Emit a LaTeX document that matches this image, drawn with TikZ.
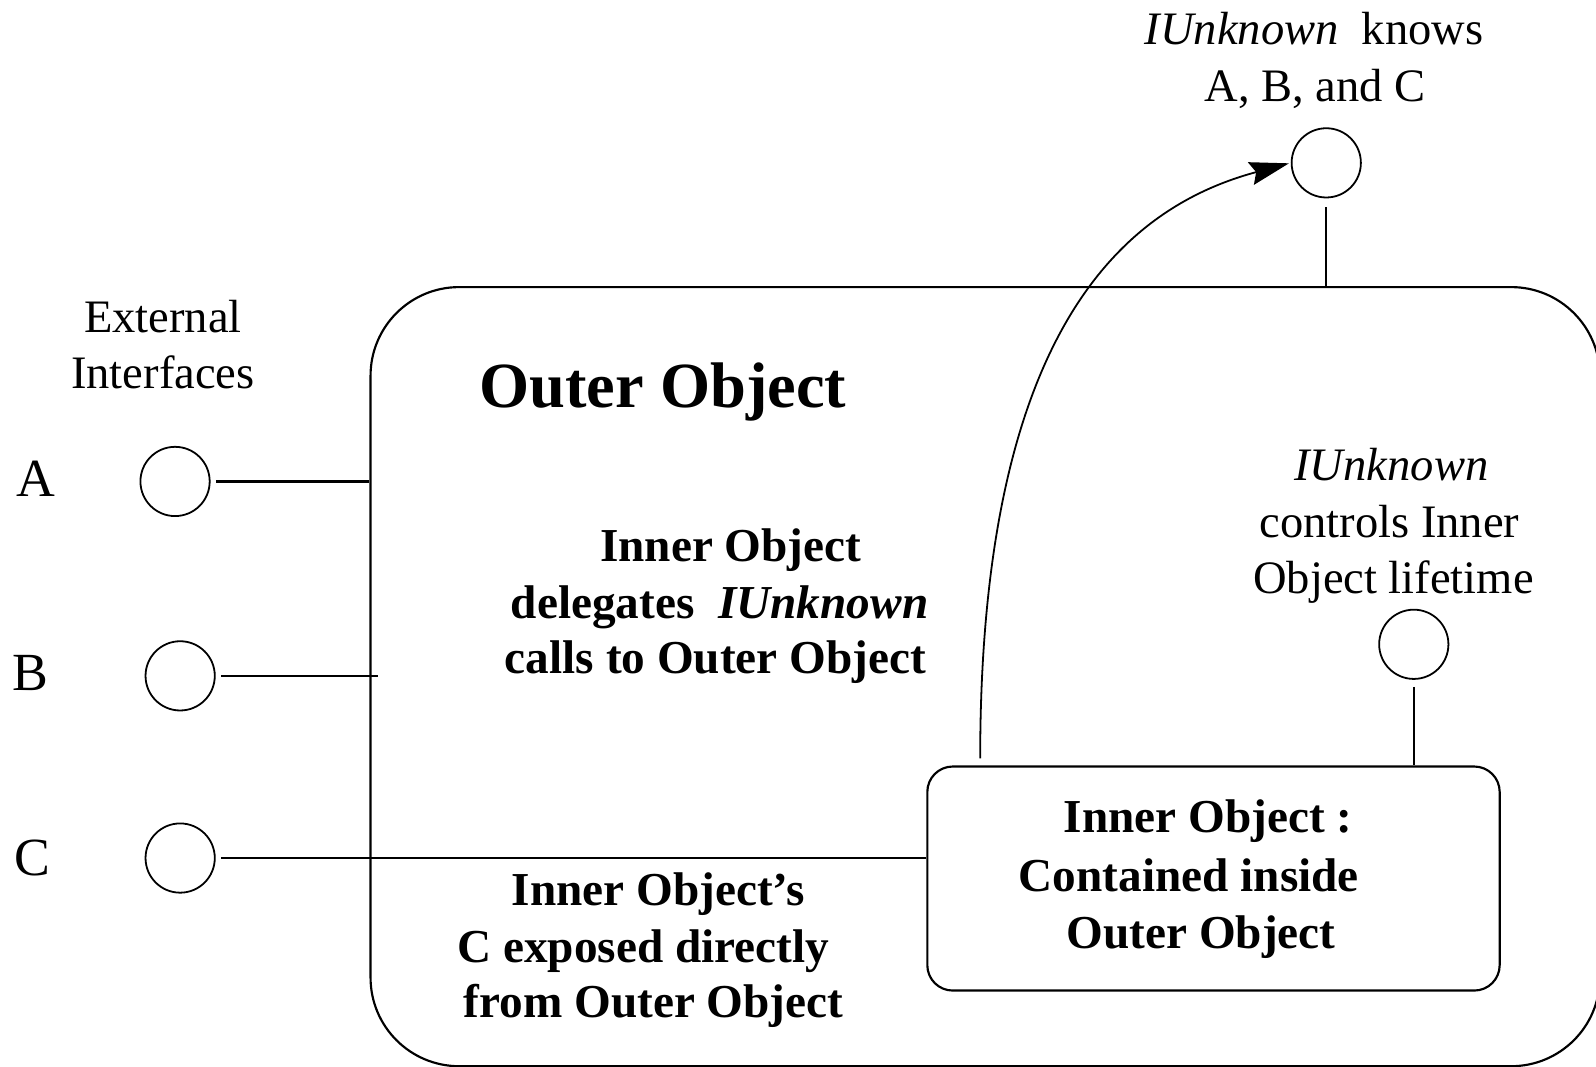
\documentclass[tikz,border=0pt]{standalone}
\usepackage{fontspec}
\setmainfont{Liberation Serif}
\usetikzlibrary{arrows.meta}
\begin{document}
\begin{tikzpicture}[x=0.01cm,y=-0.01cm,
  line width=0.6pt,
  iface/.style={circle, draw, line width=0.5pt, minimum size=0.68cm, inner sep=0pt},
  txt/.style={inner sep=0pt, anchor=base, font=\fontsize{13}{15.8}\selectfont},
  btxt/.style={inner sep=0pt, anchor=base, font=\bfseries\fontsize{13.2}{15.8}\selectfont},
  letter/.style={inner sep=0pt, anchor=base, font=\fontsize{15}{18}\selectfont},
  wire/.style={line width=0.6pt},
  box/.style={draw, line width=0.6pt, inner sep=0pt, anchor=north west}]
\useasboundingbox (0,0) rectangle (1568,1048);

% outer object container
\node[box, rounded corners=0.87cm, minimum width=12.07cm, minimum height=7.65cm]
  (outer) at (363,281) {};
% inner object
\node[box, rounded corners=0.25cm, minimum width=5.62cm, minimum height=2.2cm]
  (inner) at (910,752) {};

% interface lollipops
\node[iface] (ia) at (172,473) {};
\node[iface] (ib) at (177,664) {};
\node[iface] (ic) at (177,843) {};
\node[iface] (top) at (1303,160) {};
\node[iface] (life) at (1389,633) {};

\draw[wire, shorten <=1.5pt] (ia.east) -- (ia.east -| outer.west);
\draw[wire, shorten <=1.5pt] (ib.east) -- ([xshift=0.08cm]ib.east -| outer.west);
\draw[wire, shorten <=1.5pt] (ic.east) -- (ic.east -| inner.west);
\draw[wire, shorten <=2.5pt] (top.south) -- (top.south |- outer.north);
\draw[wire, shorten <=2pt] (life.south) -- (life.south |- inner.north);

% delegation arc from the inner object to the outer IUnknown
\coordinate (arcstart) at (963,745);
\draw[line width=0.5pt, -{Stealth[length=11pt,width=6.5pt,inset=1.5pt]}, shorten >=0.5pt]
  (arcstart) .. controls (963,330) and (1100,205) .. (top.west);

% labels
\node[txt] (k1) at (1291,44) {\textit{IUnknown}\ \ knows};
\node[txt] (k2) at (1292,100) {A, B, and C};

\node[txt] (e1) at (160,327) {External};
\node[txt] (e2) at (160,382) {Interfaces};

\node[letter] (la) at (35,488) {A};
\node[letter] (lb) at (30,678) {B};
\node[letter] (lc) at (32,860) {C};

\node[inner sep=0pt, anchor=base west, font=\bfseries\fontsize{18}{21}\selectfont]
  (otitle) at (470,400) {Outer Object};

\node[btxt] (d1) at (718,552) {Inner Object};
\node[btxt] (d2) at (707,608) {delegates\ \ \textit{IUnknown}};
\node[btxt] (d3) at (703,662) {calls to Outer Object};

\node[txt] (c1) at (1367,472) {\textit{IUnknown}};
\node[txt] (c2) at (1365,528) {controls Inner};
\node[txt] (c3) at (1369,583) {Object lifetime};

\node[btxt] (i1) at (1187,818) {Inner Object :};
\node[btxt] (i2) at (1168,876) {Contained inside};
\node[btxt] (i3) at (1180,932) {Outer Object};

\node[btxt] (x1) at (647,890) {Inner Object’s};
\node[btxt] (x2) at (632,946) {C exposed directly};
\node[btxt] (x3) at (642,1000) {from Outer Object};
\end{tikzpicture}
\end{document}
